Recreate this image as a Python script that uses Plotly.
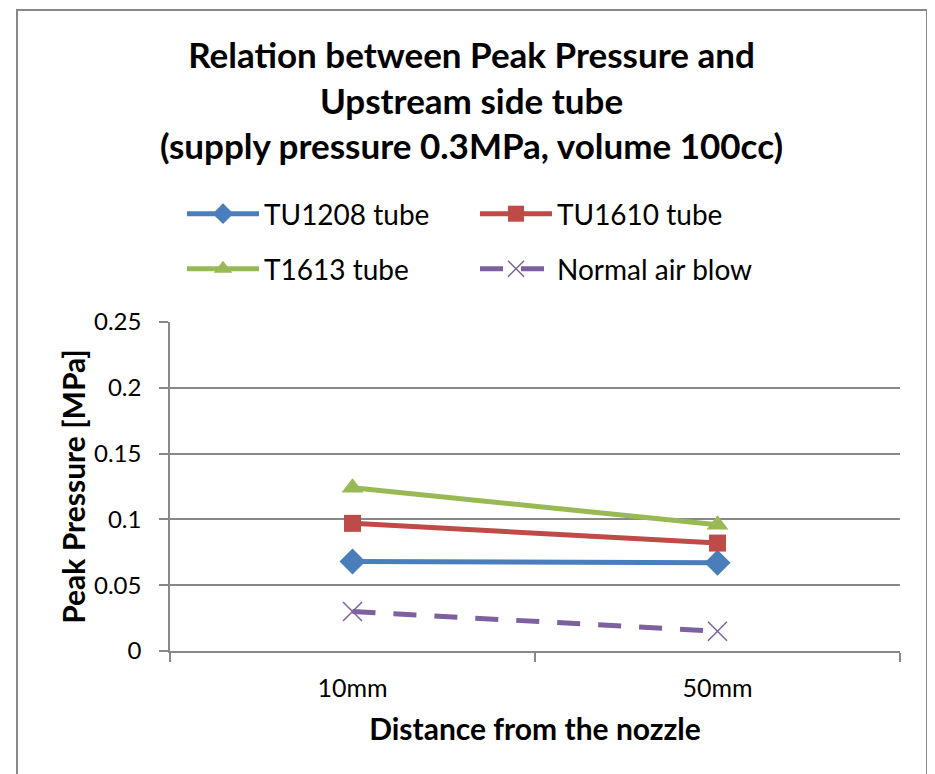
import plotly.graph_objects as go

categories = ["10mm", "50mm"]
tu1208 = [0.068, 0.067]
tu1610 = [0.097, 0.082]
t1613 = [0.124, 0.096]
normal_air = [0.030, 0.015]
series_names = ["TU1208 tube", "TU1610 tube", "T1613 tube", "Normal air blow"]
y_ticks = [0, 0.05, 0.1, 0.15, 0.2, 0.25]
y_tick_labels = ["0", "0.05", "0.1", "0.15", "0.2", "0.25"]

FONT = "Lato"
OFF = 8  # page body margin
W, H = 935 - OFF, 774 - OFF
L, R, T, B = 170 - OFF, 900 - OFF, 322 - OFF, 651 - OFF
plot_w = R - L
plot_h = B - T

fig = go.Figure()

fig.add_trace(go.Scatter(x=categories, y=tu1208, name=series_names[0], mode="lines+markers",
                         line=dict(color="#4A7EBB", width=5),
                         marker=dict(symbol="diamond", size=20, color="#4A7EBB"), legend="legend"))
fig.add_trace(go.Scatter(x=categories, y=tu1610, name=series_names[1], mode="lines+markers",
                         line=dict(color="#BE4B48", width=5),
                         marker=dict(symbol="square", size=17, color="#BE4B48"), legend="legend"))
fig.add_trace(go.Scatter(x=categories, y=t1613, name=series_names[2], mode="lines+markers",
                         line=dict(color="#98B954", width=5),
                         marker=dict(symbol="triangle-up", size=19, color="#98B954"), legend="legend2"))
fig.add_trace(go.Scatter(x=categories, y=normal_air, name=series_names[3], mode="lines+markers",
                         line=dict(color="#7D60A0", width=5, dash="23px,18px"),
                         marker=dict(symbol="x-thin-open", size=19, color="#7D60A0",
                                     line=dict(color="#7D60A0", width=1.5)), legend="legend2"))

legend_common = dict(orientation="h", x=(182 - OFF - L) / plot_w, xanchor="left", yanchor="middle",
                     entrywidth=206, itemwidth=72,
                     font=dict(size=28, family=FONT), bgcolor="rgba(0,0,0,0)", traceorder="normal")

fig.update_layout(
    width=W, height=H,
    margin=dict(l=L, r=W - R, t=T, b=H - B),
    paper_bgcolor="white", plot_bgcolor="white",
    font=dict(family=FONT, color="black"),
    title=dict(text="<b>Relation between Peak Pressure and<br>Upstream side tube<br>(supply pressure 0.3MPa, volume 100cc)</b>",
               x=0.5, xanchor="center", xref="container",
               y=1 - (68 - OFF) / H, yanchor="top", yref="container",
               font=dict(family=FONT, size=35, color="black")),
    legend=dict(**legend_common, y=(B - (214 - OFF)) / plot_h),
    legend2=dict(**legend_common, y=(B - (269 - OFF)) / plot_h),
    xaxis=dict(type="category", range=[-0.5, 1.5], showgrid=False, showline=True,
               linecolor="#888888", linewidth=1.5, ticks="outside", tickson="boundaries",
               ticklen=9, tickcolor="#888888", tickwidth=1.5, ticklabelstandoff=14,
               tickfont=dict(size=25, family=FONT), mirror=False,
               title=dict(text="<b>Distance from the nozzle</b>", font=dict(size=30, family=FONT), standoff=18)),
    yaxis=dict(range=[0, 0.25], tickvals=y_ticks, ticktext=y_tick_labels,
               showgrid=True, gridcolor="#888888", gridwidth=1.5,
               showline=True, linecolor="#888888", linewidth=1.5,
               ticks="outside", ticklen=9, tickcolor="#888888", tickwidth=1.5, ticklabelstandoff=13,
               tickfont=dict(size=24, family=FONT), zeroline=False,
               title=dict(text="<b>Peak Pressure [MPa]</b>", font=dict(size=30, family=FONT), standoff=0)),
)

fig.add_shape(type="rect", xref="paper", yref="paper",
              x0=(17 - OFF - L) / plot_w, x1=(927 - OFF - L) / plot_w,
              y0=(B - (800 - OFF)) / plot_h, y1=(B - (10 - OFF)) / plot_h,
              line=dict(color="#888888", width=2), fillcolor="rgba(0,0,0,0)", layer="below")

fig.write_html("out.html")
